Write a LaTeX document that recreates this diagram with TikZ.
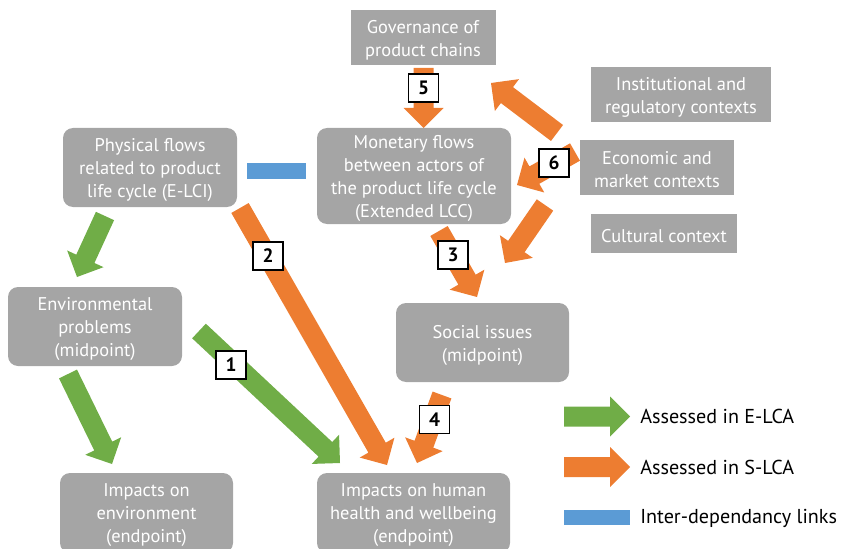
\documentclass[tikz,border=0pt]{standalone}
\usepackage{fontspec}
\setmainfont{PT Sans}
\usetikzlibrary{calc}
\definecolor{boxgray}{HTML}{A5A5A5}
\definecolor{aorange}{HTML}{ED7D31}
\definecolor{agreen}{HTML}{70AD47}
\definecolor{ablue}{HTML}{5B9BD5}
% block arrow: #1 colour, #2 tail coordinate, #3 tip coordinate
\newcommand\blockarrow[3]{%
  \coordinate (bb) at ($(#3)!15pt!(#2)$);
  \fill[#1] ($(#2)!7.5pt!90:(#3)$) -- ($(bb)!7.5pt!-90:(#2)$) -- ($(bb)!15pt!-90:(#2)$)
    -- (#3) -- ($(bb)!15pt!90:(#2)$) -- ($(bb)!7.5pt!90:(#2)$) -- ($(#2)!7.5pt!-90:(#3)$) -- cycle;
}
\begin{document}
\begin{tikzpicture}[x=0.75pt,y=-0.75pt,
  wh/.style 2 args={minimum width=#1*0.75pt, minimum height=#2*0.75pt},
  btext/.style={label={[text=white, align=center, inner sep=0pt, yshift=-1.9pt,
    font=\fontsize{13.8}{17.25}\selectfont]center:#1}},
  gbox/.style={fill=boxgray, inner sep=0pt},
  sharpbox/.style={gbox},
  roundbox/.style={gbox, rounded corners=7.5pt},
  numbox/.style={draw=black, fill=white, line width=0.9pt, wh={30}{28}, inner sep=0pt,
    font=\bfseries\fontsize{14.5}{16}\selectfont},
  legtext/.style={anchor=west, inner sep=0pt, text=black, font=\fontsize{15.1}{18}\selectfont}]
\useasboundingbox (0,0) rectangle (842,549);
\clip (0,0) rectangle (842,549);

% boxes
\node[sharpbox, wh={145}{55}, btext={Governance of\\product chains}] (gov) at (423,37.5) {};
\node[sharpbox, wh={180}{55}, btext={Institutional and\\regulatory contexts}] (inst) at (681,94.5) {};
\node[sharpbox, wh={154}{55}, btext={Economic and\\market contexts}] (econ) at (657,167.5) {};
\node[sharpbox, wh={146}{39}, btext={Cultural context}] (cult) at (664,233.5) {};
\node[roundbox, wh={194}{96}, btext={Monetary flows\\between actors of\\the product life cycle\\(Extended LCC)}] (mon) at (414,176) {};
\node[roundbox, wh={174}{79}, btext={Physical flows\\related to product\\life cycle (E-LCI)}] (phys) at (150,167.5) {};
\node[roundbox, wh={174}{79}, btext={Environmental\\problems\\(midpoint)}] (env) at (95,326.5) {};
\node[roundbox, wh={173}{79}, btext={Social issues\\(midpoint)}] (soc) at (482.5,342.5) {};
\node[roundbox, wh={173}{80}, btext={Impacts on\\environment\\(endpoint)}] (ienv) at (146.5,513) {};
\node[roundbox, wh={193}{80}, btext={Impacts on human\\health and wellbeing\\(endpoint)}] (ihum) at (413.5,513) {};

% inter-dependency link
\node[fill=ablue, wh={59}{16}, inner sep=0pt] (link) at (276.5,171) {};

% arrow ends
\coordinate (a5s) at (423.5,68);   \coordinate (a5e) at (423.5,128);
\coordinate (egs) at (557,133);    \coordinate (ege) at (491,83);
\coordinate (a6s) at (575,152);    \coordinate (a6e) at (517,185);
\coordinate (ess) at (545,205);    \coordinate (ese) at (505,263);
\coordinate (a3s) at (439,231);    \coordinate (a3e) at (477,297);
\coordinate (a4s) at (442,395);    \coordinate (a4e) at (417,463);
\coordinate (a2s) at (240,208);    \coordinate (a2e) at (387,465);
\coordinate (a1s) at (199,331);    \coordinate (a1e) at (340,463);
\coordinate (g1s) at (105,216);    \coordinate (g1e) at (77,277);
\coordinate (g2s) at (68,374);     \coordinate (g2e) at (112,464);

\blockarrow{aorange}{a5s}{a5e}
\blockarrow{aorange}{egs}{ege}
\blockarrow{aorange}{a6s}{a6e}
\blockarrow{aorange}{ess}{ese}
\blockarrow{aorange}{a3s}{a3e}
\blockarrow{aorange}{a4s}{a4e}
\blockarrow{aorange}{a2s}{a2e}
\blockarrow{agreen}{a1s}{a1e}
\blockarrow{agreen}{g1s}{g1e}
\blockarrow{agreen}{g2s}{g2e}

% number labels
\node[numbox] (n5) at (423.5,88) {5};
\node[numbox] (n6) at (554,163) {6};
\node[numbox] (n3) at (453,255) {3};
\node[numbox] (n4) at (434.5,419.5) {4};
\node[numbox] (n2) at (268,256) {2};
\node[numbox] (n1) at (231,365) {1};

% legend
\coordinate (lgs) at (564,416.5); \coordinate (lge) at (630,416.5);
\coordinate (los) at (564,467);   \coordinate (loe) at (630,467);
\blockarrow{agreen}{lgs}{lge}
\blockarrow{aorange}{los}{loe}
\node[fill=ablue, wh={66}{15}, inner sep=0pt] (lbl) at (597,517.5) {};
\node[legtext] (tg) at (640,416.5) {Assessed in E-LCA};
\node[legtext] (to) at (640,467) {Assessed in S-LCA};
\node[legtext] (tb) at (640,518) {Inter-dependancy links};
\end{tikzpicture}
\end{document}
